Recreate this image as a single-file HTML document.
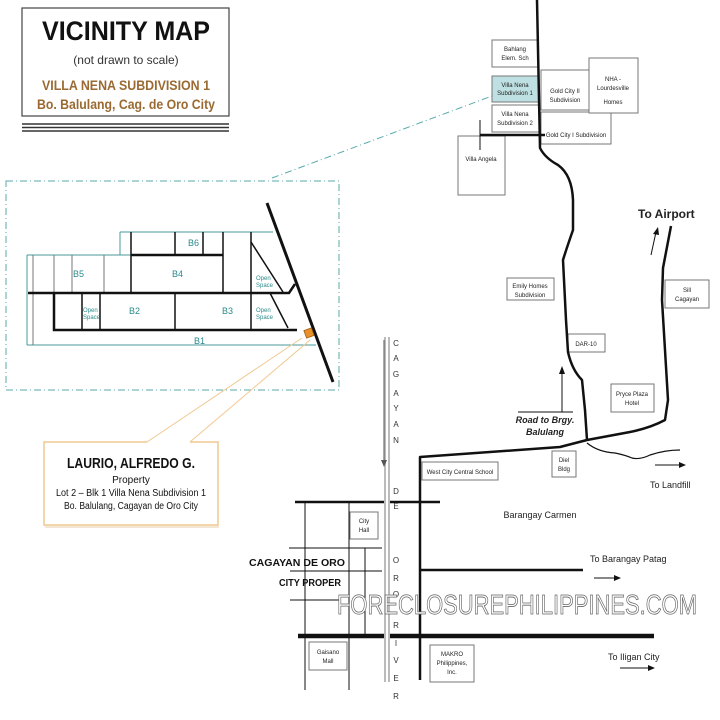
<!DOCTYPE html>
<html><head><meta charset="utf-8"><style>
html,body{margin:0;padding:0;background:#fff}
svg{display:block}
text{font-family:"Liberation Sans",Arial,sans-serif}
</style></head><body>
<svg width="720" height="720" viewBox="0 0 720 720" xmlns="http://www.w3.org/2000/svg">
<rect width="720" height="720" fill="#fff"/>
<!-- Title -->
<rect x="22" y="8" width="207" height="108" fill="#fff" stroke="#444" stroke-width="1.2"/>
<g stroke="#333" stroke-width="1.4"><line x1="22" y1="124" x2="229" y2="124"/><line x1="22" y1="127.5" x2="229" y2="127.5"/><line x1="22" y1="131" x2="229" y2="131"/></g>
<text x="126" y="40" font-size="27" font-weight="bold" text-anchor="middle" textLength="168" lengthAdjust="spacingAndGlyphs" fill="#111">VICINITY MAP</text>
<text x="126" y="64" font-size="12" text-anchor="middle" fill="#333">(not drawn to scale)</text>
<text x="126" y="90" font-size="13.5" font-weight="bold" text-anchor="middle" textLength="168" lengthAdjust="spacingAndGlyphs" fill="#9a6a32">VILLA NENA SUBDIVISION 1</text>
<text x="126" y="109" font-size="14" font-weight="bold" text-anchor="middle" textLength="178" lengthAdjust="spacingAndGlyphs" fill="#9a6a32">Bo. Balulang, Cag. de Oro City</text>

<!-- inset -->
<rect x="6" y="181" width="333" height="209" fill="none" stroke="#5aaaaa" stroke-width="1" stroke-dasharray="7,3,1,3"/>
<line x1="272" y1="178" x2="492" y2="96" stroke="#5aaaaa" stroke-width="1" stroke-dasharray="7,3,1,3"/>
<g stroke="#4a9a9a" stroke-width="1" fill="none">
<line x1="120" y1="232" x2="273" y2="232"/>
<line x1="120" y1="232" x2="120" y2="255"/>
<line x1="27" y1="255" x2="131" y2="255"/>
<line x1="27" y1="255" x2="27" y2="345"/>
<line x1="27" y1="345" x2="316" y2="345"/>
</g>
<g stroke="#777" stroke-width="1"><line x1="33" y1="255" x2="33" y2="345"/><line x1="54" y1="255" x2="54" y2="293"/><line x1="72" y1="255" x2="72" y2="293"/><line x1="104" y1="255" x2="104" y2="293"/></g>
<g stroke="#111" stroke-width="1.5" fill="none">
<line x1="131" y1="232" x2="131" y2="293"/><line x1="175" y1="232" x2="175" y2="255"/><line x1="203" y1="232" x2="203" y2="255"/>
<line x1="223" y1="232" x2="223" y2="293"/><line x1="251" y1="232" x2="251" y2="293"/>
<line x1="82" y1="293" x2="82" y2="330"/><line x1="100" y1="293" x2="100" y2="330"/><line x1="175" y1="293" x2="175" y2="330"/><line x1="251" y1="293" x2="251" y2="330"/>
<line x1="251" y1="242" x2="283" y2="292"/><line x1="270" y1="293" x2="288" y2="328"/>
</g>
<g stroke="#111" stroke-width="2.5" fill="none">
<line x1="131" y1="255" x2="223" y2="255"/>
<polyline points="28,293 289,293 295,284"/>
<polyline points="54,293 54,330 297,330"/>
</g>
<line x1="267" y1="203" x2="333" y2="382" stroke="#111" stroke-width="3"/>
<rect x="305" y="329" width="8" height="8" fill="#e8902a" stroke="#a05a10" stroke-width="0.8" transform="rotate(-20 309 333)"/>
<g fill="#2a8a8a" font-size="9">
<text x="188" y="246">B6</text><text x="73" y="277">B5</text><text x="172" y="277">B4</text>
<text x="129" y="314">B2</text><text x="222" y="314">B3</text><text x="194" y="344">B1</text>
</g>
<g fill="#2a8a8a" font-size="6"><text x="256" y="280">Open</text><text x="256" y="287">Space</text>
<text x="256" y="312">Open</text><text x="256" y="319">Space</text>
<text x="83" y="312">Open</text><text x="83" y="319">Space</text></g>

<!-- callout -->
<g stroke="#f0c890" stroke-width="1" fill="none">
<line x1="147" y1="442" x2="302" y2="338"/><line x1="190" y1="442" x2="310" y2="340"/>
</g>
<polyline points="147,442 44,442 44,525 218,525 218,442 190,442" fill="none" stroke="#f0c890" stroke-width="1.5"/>
<rect x="45" y="526" width="174" height="2" fill="#f3e6d2"/>
<text x="131" y="468" font-size="15" font-weight="bold" text-anchor="middle" textLength="128" lengthAdjust="spacingAndGlyphs" fill="#111">LAURIO, ALFREDO G.</text>
<text x="131" y="483" font-size="10" text-anchor="middle" fill="#111">Property</text>
<text x="131" y="496" font-size="10" text-anchor="middle" textLength="150" lengthAdjust="spacingAndGlyphs" fill="#111">Lot 2 – Blk 1 Villa Nena Subdivision 1</text>
<text x="131" y="509" font-size="10" text-anchor="middle" textLength="134" lengthAdjust="spacingAndGlyphs" fill="#111">Bo. Balulang, Cagayan de Oro City</text>

<!-- top right boxes -->
<g stroke="#777" stroke-width="1" fill="#fff">
<rect x="492" y="40" width="46" height="27"/>
<rect x="492" y="76" width="47" height="26" fill="#bfe0e2"/>
<rect x="492" y="105" width="47" height="27"/>
<rect x="541" y="70" width="49" height="40"/>
<rect x="541" y="112" width="70" height="32"/>
<rect x="589" y="58" width="49" height="55"/>
<rect x="458" y="136" width="47" height="59"/>
<rect x="507" y="278" width="47" height="22"/>
<rect x="665" y="280" width="44" height="28"/>
<rect x="568" y="334" width="37" height="18"/>
<rect x="611" y="384" width="43" height="28"/>
<rect x="552" y="451" width="24" height="26"/>
<rect x="422" y="462" width="76" height="18"/>
<rect x="350" y="512" width="28" height="27"/>
<rect x="309" y="642" width="38" height="28"/>
<rect x="430" y="645" width="44" height="37"/>
</g>
<g font-size="6" fill="#222" text-anchor="middle">
<text x="515" y="51">Bahlang</text><text x="515" y="60">Elem. Sch</text>
<text x="515" y="87">Villa Nena</text><text x="515" y="95">Subdivision 1</text>
<text x="515" y="116">Villa Nena</text><text x="515" y="125">Subdivision 2</text>
<text x="565" y="93">Gold City II</text><text x="565" y="102">Subdivision</text>
<text x="613" y="81">NHA -</text><text x="613" y="90">Lourdesville</text><text x="613" y="104">Homes</text>
<text x="576" y="137">Gold City I Subdivision</text>
<text x="481" y="161">Villa Angela</text>
<text x="530" y="288">Emily Homes</text><text x="530" y="297">Subdivision</text>
<text x="687" y="292">Sill</text><text x="687" y="301">Cagayan</text>
<text x="586" y="346">DAR-10</text>
<text x="632" y="396">Pryce Plaza</text><text x="632" y="405">Hotel</text>
<text x="564" y="462">Diel</text><text x="564" y="471">Bldg</text>
<text x="460" y="474">West City Central School</text>
<text x="364" y="523">City</text><text x="364" y="532">Hall</text>
<text x="328" y="654">Gaisano</text><text x="328" y="663">Mall</text>
<text x="452" y="656">MAKRO</text><text x="452" y="665">Philippines,</text><text x="452" y="674">Inc.</text>
</g>

<!-- roads -->
<g stroke="#111" fill="none" stroke-linejoin="round">
<path d="M537,0 L540,148 Q545,158 558,165 Q572,175 573,200 L573,230 Q566,250 563,260 L566,320 L568,352 Q572,370 582,380 L585,410 L587,440" stroke-width="2.5"/>
<line x1="480" y1="135" x2="545" y2="135" stroke-width="2.5"/>
<line x1="480" y1="120" x2="480" y2="150" stroke-width="1"/>
<path d="M671,226 L663,268 L662,300 L668,400 L665,420 Q650,428 630,432 L587,440 L560,447 L420,457 L420,680" stroke-width="2.5"/>
<path d="M587,443 Q598,452 615,453 Q625,455 632,458 Q640,460 650,455 Q665,450 680,450" stroke-width="1.2"/>
<line x1="295" y1="502" x2="440" y2="502" stroke-width="2.5"/>
<line x1="420" y1="570" x2="583" y2="570" stroke-width="2.5"/>
<line x1="298" y1="636" x2="654" y2="636" stroke-width="4.5"/>
<g stroke-width="1"><line x1="305" y1="502" x2="305" y2="690"/><line x1="349" y1="502" x2="349" y2="690"/><line x1="365" y1="548" x2="365" y2="636"/>
<line x1="289" y1="548" x2="382" y2="548"/><line x1="290" y1="571" x2="382" y2="571"/><line x1="290" y1="600" x2="340" y2="600"/>
<line x1="518" y1="412" x2="573" y2="412"/><line x1="562" y1="412" x2="562" y2="372"/><line x1="651" y1="255" x2="656" y2="232"/>
<line x1="655" y1="465" x2="680" y2="465"/><line x1="594" y1="578" x2="616" y2="578"/><line x1="620" y1="668" x2="650" y2="668"/></g>
</g>
<g fill="#111">
<polygon points="562,366 559,374 565,374"/><polygon points="658,227 653,234 659,235"/>
<polygon points="686,465 679,462 679,468"/><polygon points="621,578 614,575 614,581"/><polygon points="655,668 648,665 648,671"/>
</g>
<!-- river -->
<rect x="384" y="337" width="6" height="345" fill="#bbb"/>
<rect x="386" y="337" width="2" height="345" fill="#fff"/>
<line x1="384" y1="340" x2="384" y2="462" stroke="#555" stroke-width="1"/>
<polygon points="384,467 381,460 387,460" fill="#555"/>
<g font-size="8" fill="#333" text-anchor="middle">
<text x="396" y="346">C</text><text x="396" y="361">A</text><text x="396" y="377">G</text><text x="396" y="396">A</text><text x="396" y="411">Y</text><text x="396" y="427">A</text><text x="396" y="443">N</text>
<text x="396" y="494">D</text><text x="396" y="509">E</text>
<text x="396" y="563">O</text><text x="396" y="581">R</text><text x="396" y="597">O</text>
<text x="396" y="628">R</text><text x="396" y="646">I</text><text x="396" y="663">V</text><text x="396" y="681">E</text><text x="396" y="699">R</text>
</g>
<!-- labels -->
<text x="638" y="218" font-size="12" font-weight="bold" fill="#222">To Airport</text>
<text x="545" y="423" font-size="9" font-weight="bold" font-style="italic" text-anchor="middle" fill="#222">Road to Brgy.</text>
<text x="545" y="435" font-size="9" font-weight="bold" font-style="italic" text-anchor="middle" fill="#222">Balulang</text>
<text x="650" y="488" font-size="9" fill="#222">To Landfill</text>
<text x="540" y="518" font-size="9" text-anchor="middle" fill="#222">Barangay Carmen</text>
<text x="590" y="562" font-size="9" fill="#222">To Barangay Patag</text>
<text x="608" y="660" font-size="9" fill="#222">To Iligan City</text>
<text x="345" y="566" font-size="10.5" font-weight="bold" text-anchor="end" textLength="96" lengthAdjust="spacingAndGlyphs" fill="#111">CAGAYAN DE ORO</text>
<text x="341" y="586" font-size="10.5" font-weight="bold" text-anchor="end" textLength="62" lengthAdjust="spacingAndGlyphs" fill="#111">CITY PROPER</text>
<!-- watermark -->
<text x="337" y="614" font-size="28" textLength="360" lengthAdjust="spacingAndGlyphs" fill="#fff" stroke="#666" stroke-width="0.8">FORECLOSUREPHILIPPINES.COM</text>
</svg>
</body></html>
